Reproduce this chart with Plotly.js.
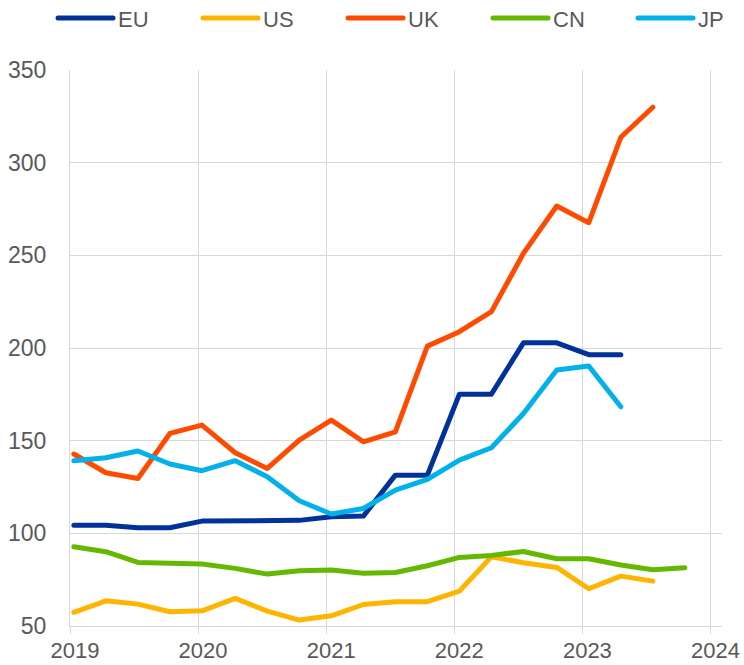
<!DOCTYPE html>
<html>
<head>
<meta charset="utf-8">
<script src="https://cdn.plot.ly/plotly-3.0.1.min.js"></script>
<style>
html,body{margin:0;padding:0;background:#fff;}
#chart{width:744px;height:665px;}
path.js-line{stroke-linecap:round !important;stroke-linejoin:round !important;}
.legendlines path{stroke-linecap:round !important;}
</style>
</head>
<body>
<div id="chart"></div>
<script>
const dates = [2019.03,2019.28,2019.53,2019.78,2020.03,2020.29,2020.54,2020.79,2021.04,2021.29,
               2021.54,2021.79,2022.04,2022.29,2022.54,2022.80,2023.05,2023.30,2023.55,2023.80];

const seriesNames = ['EU','US','UK','CN','JP'];
const EU = [104.4,104.4,103.0,103.0,106.6,106.6,106.8,107.0,109.0,109.3,131.4,131.4,175.1,175.1,202.8,202.8,196.4,196.4];
const US = [57.3,63.6,61.8,57.7,58.2,64.9,58.0,53.2,55.5,61.6,63.1,63.1,68.8,87.4,84.1,81.6,70.1,76.9,74.2];
const UK = [142.8,132.7,129.6,153.9,158.4,143.5,135.0,150.3,161.1,149.4,154.8,201.0,208.8,219.6,251.1,276.6,267.6,313.7,329.9];
const CN = [92.8,90.1,84.3,83.6,83.4,81.1,78.0,79.8,80.2,78.5,78.9,82.5,87.0,88.1,90.2,86.3,86.3,82.9,80.3,81.4];
const JP = [139.2,140.8,144.4,137.4,133.8,139.2,130.5,117.6,110.4,113.4,123.3,129.1,139.5,146.2,164.7,188.1,190.3,168.3];

const xTickVals = [2019,2020,2021,2022,2023,2024];
const xTickText = ['2019','2020','2021','2022','2023','2024'];
const yTickVals = [50,100,150,200,250,300,350];

const colors = ['#003299','#FFB400','#FF4B00','#65B800','#00B1EA'];
const values = [EU, US, UK, CN, JP];

const traces = seriesNames.map((name, k) => ({
  type: 'scatter',
  mode: 'lines',
  name: name,
  x: dates.slice(0, values[k].length),
  y: values[k],
  line: {color: colors[k], width: 5},
  hoverinfo: 'skip'
}));

const FONT = 'Liberation Sans, Arial, sans-serif';
const layout = {
  width: 744,
  height: 665,
  margin: {l: 70, r: 22, t: 70, b: 39, autoexpand: false},
  paper_bgcolor: '#ffffff',
  plot_bgcolor: '#ffffff',
  font: {family: FONT, color: '#595959', size: 22},
  showlegend: true,
  legend: {
    orientation: 'h',
    x: -0.026,
    xanchor: 'left',
    y: 1.093,
    yanchor: 'middle',
    font: {family: FONT, size: 22, color: '#595959'},
    entrywidth: 75,
    entrywidthmode: 'pixels',
    itemwidth: 55,
    traceorder: 'normal',
    bgcolor: 'rgba(0,0,0,0)'
  },
  xaxis: {
    type: 'linear',
    range: [2019, 2024.09],
    tickmode: 'array',
    tickvals: xTickVals,
    ticktext: xTickText,
    showgrid: true,
    gridcolor: '#d9d9d9',
    gridwidth: 1,
    zeroline: false,
    showline: true,
    linecolor: '#d9d9d9',
    linewidth: 1,
    ticks: 'outside',
    ticklen: 7,
    tickcolor: '#d9d9d9',
    tickfont: {family: FONT, size: 22, color: '#595959'},
    ticklabelshift: 5,
    ticklabelstandoff: -2,
    fixedrange: true
  },
  yaxis: {
    range: [50, 350],
    tickmode: 'array',
    tickvals: yTickVals,
    showgrid: true,
    gridcolor: '#d9d9d9',
    gridwidth: 1,
    zeroline: false,
    showline: true,
    linecolor: '#d9d9d9',
    linewidth: 1,
    ticks: '',
    ticklabelstandoff: 18,
    tickfont: {family: FONT, size: 23, color: '#595959'},
    fixedrange: true
  }
};

Plotly.newPlot('chart', traces, layout, {displayModeBar: false, staticPlot: true});
</script>
</body>
</html>
